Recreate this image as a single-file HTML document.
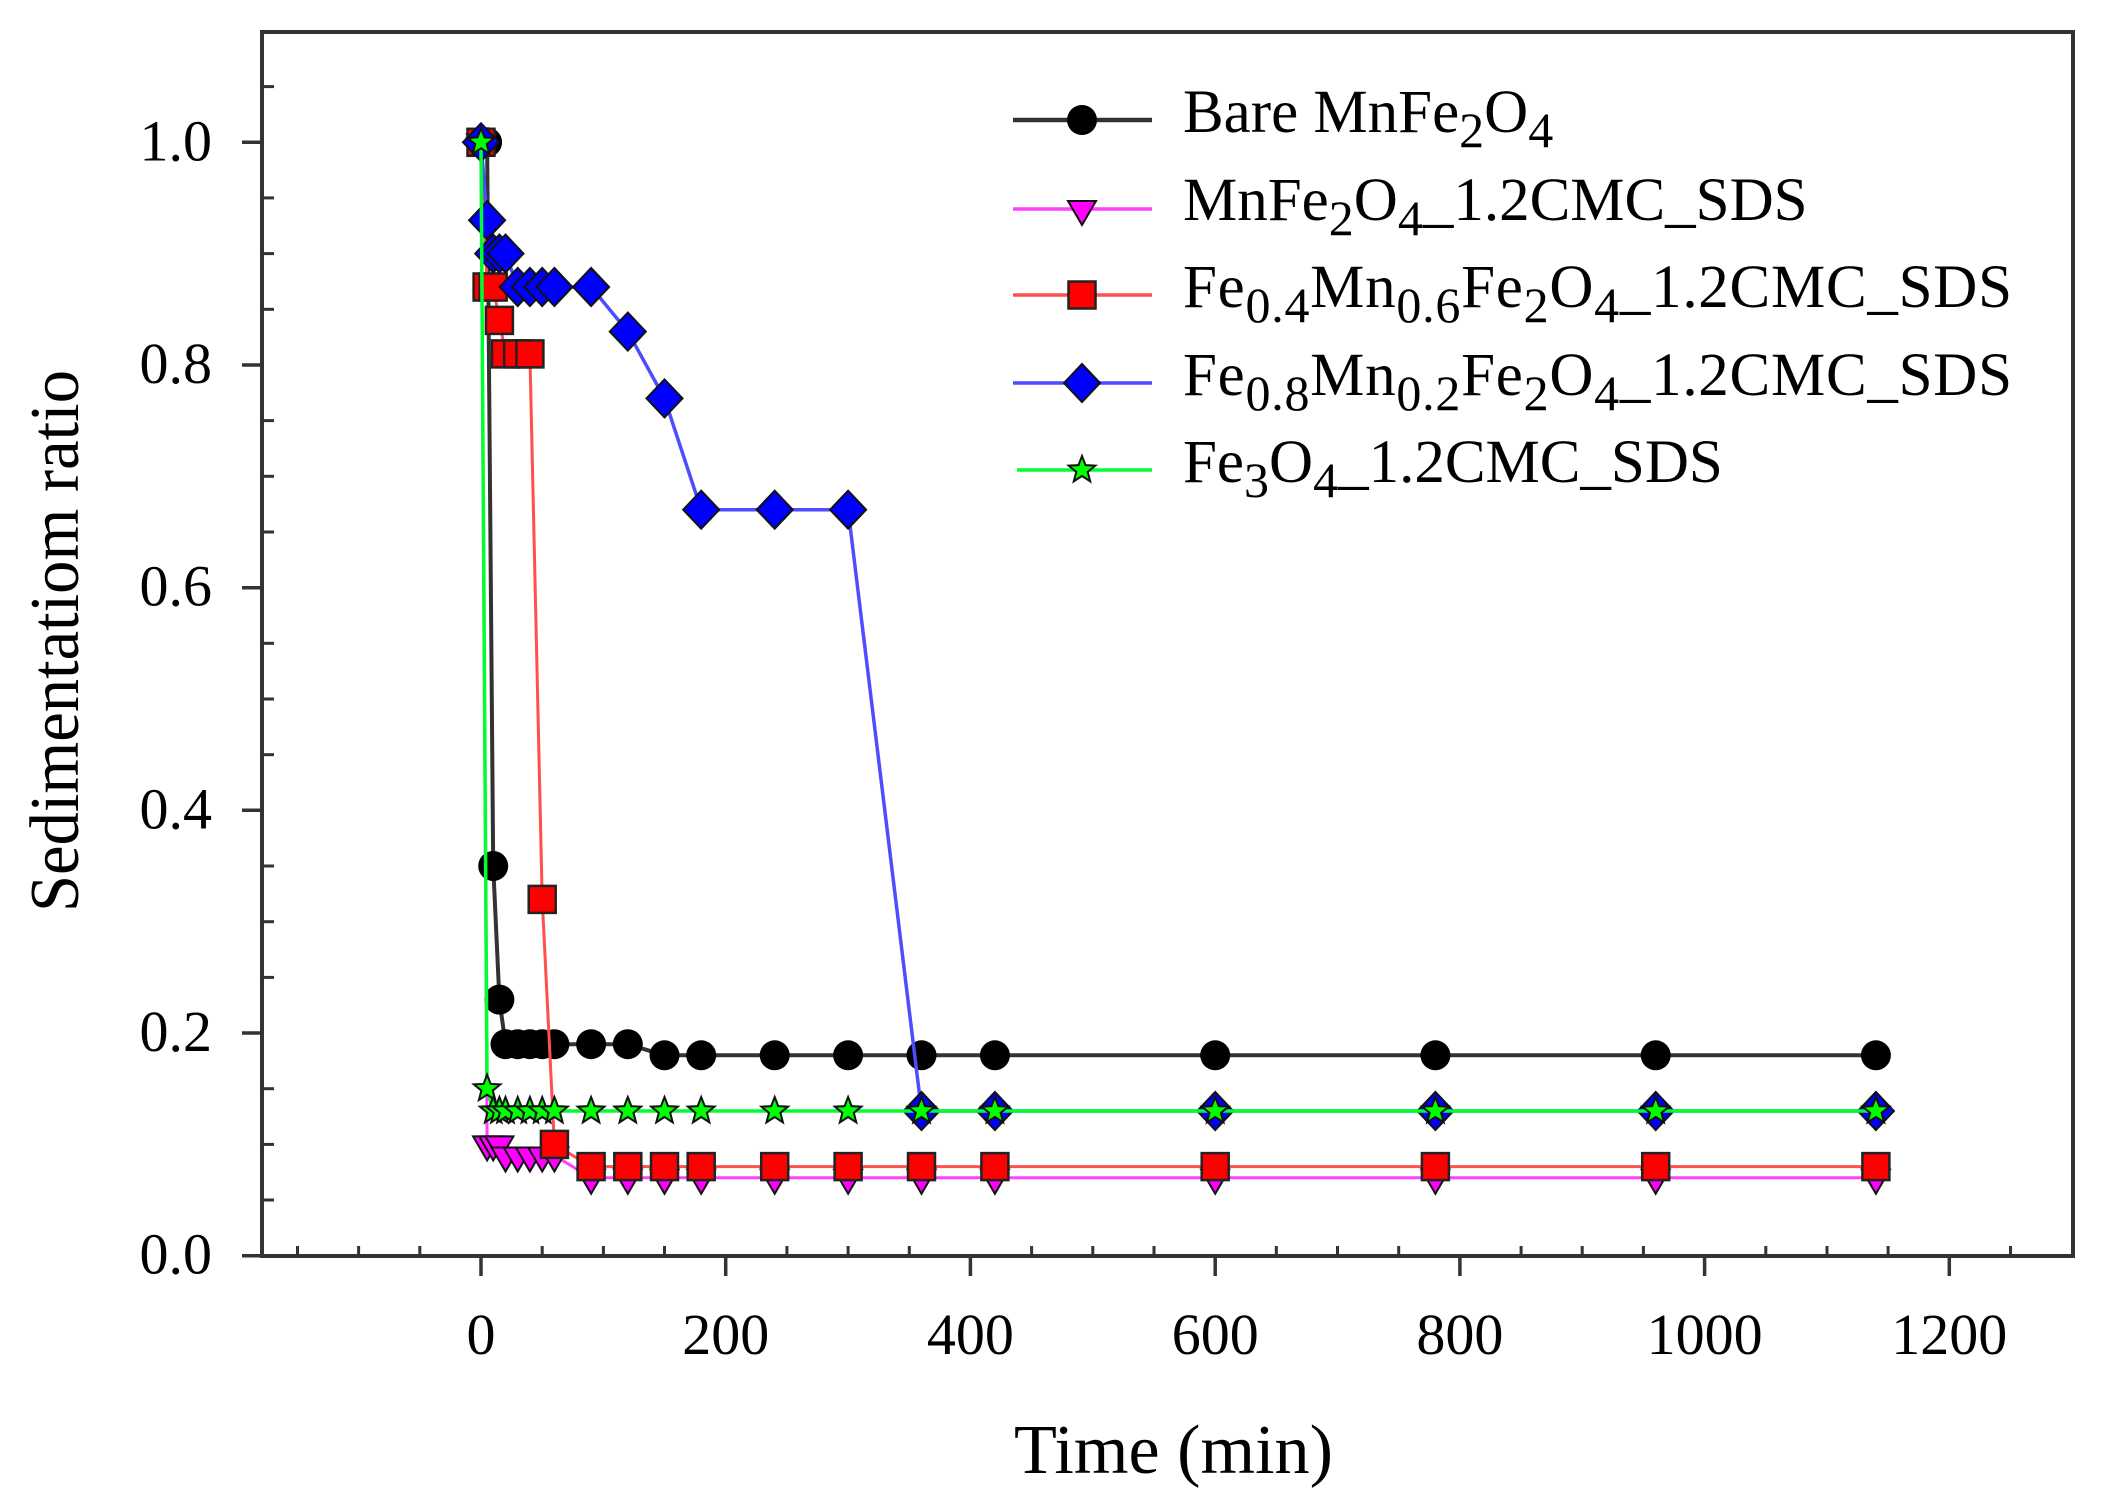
<!DOCTYPE html>
<html><head><meta charset="utf-8"><style>
html,body{margin:0;padding:0;background:#fff;}
svg{display:block;}
text{font-family:"Liberation Serif",serif;fill:#000;}
</style></head><body>
<svg width="2104" height="1507" viewBox="0 0 2104 1507" xmlns="http://www.w3.org/2000/svg">
<defs>
<circle id="mc" r="15" fill="#000"/>
<path id="mt" d="M-14,-8 L14,-8 L0,16Z" fill="#ff00ff" stroke="#111" stroke-width="2"/>
<rect id="ms" x="-13.5" y="-13.5" width="27" height="27" fill="#ff0000" stroke="#222" stroke-width="2.5"/>
<path id="md" d="M0,-19 L18,0 L0,19 L-18,0Z" fill="#0000ff" stroke="#111" stroke-width="2"/>
<path id="mg" d="M0,-14 L3.53,-4.85 L13.31,-4.33 L5.71,1.85 L8.23,11.33 L0,6 L-8.23,11.33 L-5.71,1.85 L-13.31,-4.33 L-3.53,-4.85Z" fill="#00ff00" stroke="#111" stroke-width="2"/>
</defs>
<rect width="2104" height="1507" fill="#fff"/>

<!-- frame -->
<rect x="262" y="32" width="1811" height="1224" fill="none" stroke="#333" stroke-width="4"/>
<g stroke="#333" stroke-width="3.5">
<line x1="242" y1="1255.7" x2="262" y2="1255.7"/>
<line x1="242" y1="1033.0" x2="262" y2="1033.0"/>
<line x1="242" y1="810.3" x2="262" y2="810.3"/>
<line x1="242" y1="587.7" x2="262" y2="587.7"/>
<line x1="242" y1="365.0" x2="262" y2="365.0"/>
<line x1="242" y1="142.3" x2="262" y2="142.3"/>
</g>
<g stroke="#333" stroke-width="3">
<line x1="262" y1="1200.0" x2="274" y2="1200.0"/>
<line x1="262" y1="1144.4" x2="274" y2="1144.4"/>
<line x1="262" y1="1088.7" x2="274" y2="1088.7"/>
<line x1="262" y1="977.4" x2="274" y2="977.4"/>
<line x1="262" y1="921.7" x2="274" y2="921.7"/>
<line x1="262" y1="866.0" x2="274" y2="866.0"/>
<line x1="262" y1="754.7" x2="274" y2="754.7"/>
<line x1="262" y1="699.0" x2="274" y2="699.0"/>
<line x1="262" y1="643.3" x2="274" y2="643.3"/>
<line x1="262" y1="532.0" x2="274" y2="532.0"/>
<line x1="262" y1="476.3" x2="274" y2="476.3"/>
<line x1="262" y1="420.6" x2="274" y2="420.6"/>
<line x1="262" y1="309.3" x2="274" y2="309.3"/>
<line x1="262" y1="253.6" x2="274" y2="253.6"/>
<line x1="262" y1="197.9" x2="274" y2="197.9"/>
<line x1="262" y1="86.6" x2="274" y2="86.6"/>
</g>
<g stroke="#333" stroke-width="3.5">
<line x1="481.0" y1="1256" x2="481.0" y2="1276"/>
<line x1="725.7" y1="1256" x2="725.7" y2="1276"/>
<line x1="970.4" y1="1256" x2="970.4" y2="1276"/>
<line x1="1215.2" y1="1256" x2="1215.2" y2="1276"/>
<line x1="1459.9" y1="1256" x2="1459.9" y2="1276"/>
<line x1="1704.6" y1="1256" x2="1704.6" y2="1276"/>
<line x1="1949.3" y1="1256" x2="1949.3" y2="1276"/>
</g>
<g stroke="#333" stroke-width="3">
<line x1="297.5" y1="1256" x2="297.5" y2="1246"/>
<line x1="358.6" y1="1256" x2="358.6" y2="1246"/>
<line x1="419.8" y1="1256" x2="419.8" y2="1246"/>
<line x1="542.2" y1="1256" x2="542.2" y2="1246"/>
<line x1="603.4" y1="1256" x2="603.4" y2="1246"/>
<line x1="664.5" y1="1256" x2="664.5" y2="1246"/>
<line x1="786.9" y1="1256" x2="786.9" y2="1246"/>
<line x1="848.1" y1="1256" x2="848.1" y2="1246"/>
<line x1="909.3" y1="1256" x2="909.3" y2="1246"/>
<line x1="1031.6" y1="1256" x2="1031.6" y2="1246"/>
<line x1="1092.8" y1="1256" x2="1092.8" y2="1246"/>
<line x1="1154.0" y1="1256" x2="1154.0" y2="1246"/>
<line x1="1276.3" y1="1256" x2="1276.3" y2="1246"/>
<line x1="1337.5" y1="1256" x2="1337.5" y2="1246"/>
<line x1="1398.7" y1="1256" x2="1398.7" y2="1246"/>
<line x1="1521.1" y1="1256" x2="1521.1" y2="1246"/>
<line x1="1582.2" y1="1256" x2="1582.2" y2="1246"/>
<line x1="1643.4" y1="1256" x2="1643.4" y2="1246"/>
<line x1="1765.8" y1="1256" x2="1765.8" y2="1246"/>
<line x1="1827.0" y1="1256" x2="1827.0" y2="1246"/>
<line x1="1888.1" y1="1256" x2="1888.1" y2="1246"/>
<line x1="2010.5" y1="1256" x2="2010.5" y2="1246"/>
</g>

<!-- tick labels -->
<g font-size="58" text-anchor="end">
<text x="212" y="1273.7">0.0</text>
<text x="212" y="1051.0">0.2</text>
<text x="212" y="828.3">0.4</text>
<text x="212" y="605.7">0.6</text>
<text x="212" y="383.0">0.8</text>
<text x="212" y="160.3">1.0</text>
</g>
<g font-size="58" text-anchor="middle">
<text x="481.0" y="1354">0</text>
<text x="725.7" y="1354">200</text>
<text x="970.4" y="1354">400</text>
<text x="1215.2" y="1354">600</text>
<text x="1459.9" y="1354">800</text>
<text x="1704.6" y="1354">1000</text>
<text x="1949.3" y="1354">1200</text>
</g>

<!-- axis titles -->
<text x="1173.5" y="1473" font-size="70" text-anchor="middle" textLength="319" lengthAdjust="spacingAndGlyphs">Time (min)</text>
<text transform="translate(78,641) rotate(-90)" font-size="70" text-anchor="middle" textLength="542" lengthAdjust="spacingAndGlyphs">Sedimentatiom ratio</text>

<!-- Bare MnFe2O4 -->
<polyline fill="none" stroke="#333" stroke-width="4" stroke-linejoin="round" points="481.0,142.3 487.1,142.3 493.2,866.0 499.4,999.6 505.5,1044.2 517.7,1044.2 529.9,1044.2 542.2,1044.2 554.4,1044.2 591.1,1044.2 627.8,1044.2 664.5,1055.3 701.2,1055.3 774.7,1055.3 848.1,1055.3 921.5,1055.3 994.9,1055.3 1215.2,1055.3 1435.4,1055.3 1655.7,1055.3 1875.9,1055.3"/>
<g>
<use href="#mc" x="481.0" y="142.3"/><use href="#mc" x="487.1" y="142.3"/><use href="#mc" x="493.2" y="866.0"/><use href="#mc" x="499.4" y="999.6"/><use href="#mc" x="505.5" y="1044.2"/><use href="#mc" x="517.7" y="1044.2"/><use href="#mc" x="529.9" y="1044.2"/><use href="#mc" x="542.2" y="1044.2"/><use href="#mc" x="554.4" y="1044.2"/><use href="#mc" x="591.1" y="1044.2"/><use href="#mc" x="627.8" y="1044.2"/><use href="#mc" x="664.5" y="1055.3"/><use href="#mc" x="701.2" y="1055.3"/><use href="#mc" x="774.7" y="1055.3"/><use href="#mc" x="848.1" y="1055.3"/><use href="#mc" x="921.5" y="1055.3"/><use href="#mc" x="994.9" y="1055.3"/><use href="#mc" x="1215.2" y="1055.3"/><use href="#mc" x="1435.4" y="1055.3"/><use href="#mc" x="1655.7" y="1055.3"/><use href="#mc" x="1875.9" y="1055.3"/>
</g>

<!-- MnFe2O4_1.2CMC_SDS -->
<polyline fill="none" stroke="#ff40ff" stroke-width="3" stroke-linejoin="round" points="481.0,142.3 487.1,1144.4 493.2,1144.4 499.4,1144.4 505.5,1155.5 517.7,1155.5 529.9,1155.5 542.2,1155.5 554.4,1155.5 591.1,1177.8 627.8,1177.8 664.5,1177.8 701.2,1177.8 774.7,1177.8 848.1,1177.8 921.5,1177.8 994.9,1177.8 1215.2,1177.8 1435.4,1177.8 1655.7,1177.8 1875.9,1177.8"/>
<g>
<use href="#mt" x="481.0" y="142.3"/><use href="#mt" x="487.1" y="1144.4"/><use href="#mt" x="493.2" y="1144.4"/><use href="#mt" x="499.4" y="1144.4"/><use href="#mt" x="505.5" y="1155.5"/><use href="#mt" x="517.7" y="1155.5"/><use href="#mt" x="529.9" y="1155.5"/><use href="#mt" x="542.2" y="1155.5"/><use href="#mt" x="554.4" y="1155.5"/><use href="#mt" x="591.1" y="1177.8"/><use href="#mt" x="627.8" y="1177.8"/><use href="#mt" x="664.5" y="1177.8"/><use href="#mt" x="701.2" y="1177.8"/><use href="#mt" x="774.7" y="1177.8"/><use href="#mt" x="848.1" y="1177.8"/><use href="#mt" x="921.5" y="1177.8"/><use href="#mt" x="994.9" y="1177.8"/><use href="#mt" x="1215.2" y="1177.8"/><use href="#mt" x="1435.4" y="1177.8"/><use href="#mt" x="1655.7" y="1177.8"/><use href="#mt" x="1875.9" y="1177.8"/>
</g>

<!-- Fe0.4Mn0.6Fe2O4 -->
<polyline fill="none" stroke="#ff5050" stroke-width="3" stroke-linejoin="round" points="481.0,142.3 487.1,287.0 493.2,287.0 499.4,320.4 505.5,353.9 517.7,353.9 529.9,353.9 542.2,899.4 554.4,1144.4 591.1,1166.6 627.8,1166.6 664.5,1166.6 701.2,1166.6 774.7,1166.6 848.1,1166.6 921.5,1166.6 994.9,1166.6 1215.2,1166.6 1435.4,1166.6 1655.7,1166.6 1875.9,1166.6"/>
<g>
<use href="#ms" x="481.0" y="142.3"/><use href="#ms" x="487.1" y="287.0"/><use href="#ms" x="493.2" y="287.0"/><use href="#ms" x="499.4" y="320.4"/><use href="#ms" x="505.5" y="353.9"/><use href="#ms" x="517.7" y="353.9"/><use href="#ms" x="529.9" y="353.9"/><use href="#ms" x="542.2" y="899.4"/><use href="#ms" x="554.4" y="1144.4"/><use href="#ms" x="591.1" y="1166.6"/><use href="#ms" x="627.8" y="1166.6"/><use href="#ms" x="664.5" y="1166.6"/><use href="#ms" x="701.2" y="1166.6"/><use href="#ms" x="774.7" y="1166.6"/><use href="#ms" x="848.1" y="1166.6"/><use href="#ms" x="921.5" y="1166.6"/><use href="#ms" x="994.9" y="1166.6"/><use href="#ms" x="1215.2" y="1166.6"/><use href="#ms" x="1435.4" y="1166.6"/><use href="#ms" x="1655.7" y="1166.6"/><use href="#ms" x="1875.9" y="1166.6"/>
</g>

<!-- Fe0.8Mn0.2Fe2O4 -->
<polyline fill="none" stroke="#4d4dff" stroke-width="3.5" stroke-linejoin="round" points="481.0,142.3 487.1,220.2 493.2,253.6 499.4,253.6 505.5,253.6 517.7,287.0 529.9,287.0 542.2,287.0 554.4,287.0 591.1,287.0 627.8,331.6 664.5,398.4 701.2,509.7 774.7,509.7 848.1,509.7 921.5,1111.0 994.9,1111.0 1215.2,1111.0 1435.4,1111.0 1655.7,1111.0 1875.9,1111.0"/>
<g>
<use href="#md" x="481.0" y="142.3"/><use href="#md" x="487.1" y="220.2"/><use href="#md" x="493.2" y="253.6"/><use href="#md" x="499.4" y="253.6"/><use href="#md" x="505.5" y="253.6"/><use href="#md" x="517.7" y="287.0"/><use href="#md" x="529.9" y="287.0"/><use href="#md" x="542.2" y="287.0"/><use href="#md" x="554.4" y="287.0"/><use href="#md" x="591.1" y="287.0"/><use href="#md" x="627.8" y="331.6"/><use href="#md" x="664.5" y="398.4"/><use href="#md" x="701.2" y="509.7"/><use href="#md" x="774.7" y="509.7"/><use href="#md" x="848.1" y="509.7"/><use href="#md" x="921.5" y="1111.0"/><use href="#md" x="994.9" y="1111.0"/><use href="#md" x="1215.2" y="1111.0"/><use href="#md" x="1435.4" y="1111.0"/><use href="#md" x="1655.7" y="1111.0"/><use href="#md" x="1875.9" y="1111.0"/>
</g>

<!-- Fe3O4 -->
<polyline fill="none" stroke="#00ff30" stroke-width="3.5" stroke-linejoin="round" points="481.0,142.3 487.1,1088.7 493.2,1111.0 499.4,1111.0 505.5,1111.0 517.7,1111.0 529.9,1111.0 542.2,1111.0 554.4,1111.0 591.1,1111.0 627.8,1111.0 664.5,1111.0 701.2,1111.0 774.7,1111.0 848.1,1111.0 921.5,1111.0 994.9,1111.0 1215.2,1111.0 1435.4,1111.0 1655.7,1111.0 1875.9,1111.0"/>
<g>
<use href="#mg" x="481.0" y="142.3"/><use href="#mg" x="487.1" y="1088.7"/><use href="#mg" x="493.2" y="1111.0"/><use href="#mg" x="499.4" y="1111.0"/><use href="#mg" x="505.5" y="1111.0"/><use href="#mg" x="517.7" y="1111.0"/><use href="#mg" x="529.9" y="1111.0"/><use href="#mg" x="542.2" y="1111.0"/><use href="#mg" x="554.4" y="1111.0"/><use href="#mg" x="591.1" y="1111.0"/><use href="#mg" x="627.8" y="1111.0"/><use href="#mg" x="664.5" y="1111.0"/><use href="#mg" x="701.2" y="1111.0"/><use href="#mg" x="774.7" y="1111.0"/><use href="#mg" x="848.1" y="1111.0"/><use href="#mg" x="921.5" y="1111.0"/><use href="#mg" x="994.9" y="1111.0"/><use href="#mg" x="1215.2" y="1111.0"/><use href="#mg" x="1435.4" y="1111.0"/><use href="#mg" x="1655.7" y="1111.0"/><use href="#mg" x="1875.9" y="1111.0"/>
</g>

<!-- legend -->
<line x1="1013" y1="120" x2="1152" y2="120" stroke="#333" stroke-width="4.5"/>
<use href="#mc" x="1082" y="120"/>
<line x1="1013" y1="209" x2="1152" y2="209" stroke="#ff40ff" stroke-width="3.5"/>
<use href="#mt" x="1082" y="209"/>
<line x1="1013" y1="295" x2="1152" y2="295" stroke="#ff5050" stroke-width="3.5"/>
<use href="#ms" x="1082" y="295"/>
<line x1="1013" y1="383" x2="1152" y2="383" stroke="#4d4dff" stroke-width="3.5"/>
<use href="#md" x="1082" y="383"/>
<line x1="1017" y1="470" x2="1152" y2="470" stroke="#00ff30" stroke-width="3.5"/>
<use href="#mg" x="1082" y="470"/>

<g font-size="61">
<text x="1183" y="132">Bare MnFe<tspan font-size="50" dy="15">2</tspan><tspan dy="-15">O</tspan><tspan font-size="50" dy="15">4</tspan></text>
<text x="1183" y="220">MnFe<tspan font-size="50" dy="15">2</tspan><tspan dy="-15">O</tspan><tspan font-size="50" dy="15">4</tspan><tspan dy="-15">_1.2CMC_SDS</tspan></text>
<text x="1183" y="307" textLength="829" lengthAdjust="spacing">Fe<tspan font-size="50" dy="15">0.4</tspan><tspan dy="-15">Mn</tspan><tspan font-size="50" dy="15">0.6</tspan><tspan dy="-15">Fe</tspan><tspan font-size="50" dy="15">2</tspan><tspan dy="-15">O</tspan><tspan font-size="50" dy="15">4</tspan><tspan dy="-15">_1.2CMC_SDS</tspan></text>
<text x="1183" y="395" textLength="829" lengthAdjust="spacing">Fe<tspan font-size="50" dy="15">0.8</tspan><tspan dy="-15">Mn</tspan><tspan font-size="50" dy="15">0.2</tspan><tspan dy="-15">Fe</tspan><tspan font-size="50" dy="15">2</tspan><tspan dy="-15">O</tspan><tspan font-size="50" dy="15">4</tspan><tspan dy="-15">_1.2CMC_SDS</tspan></text>
<text x="1183" y="482">Fe<tspan font-size="50" dy="15">3</tspan><tspan dy="-15">O</tspan><tspan font-size="50" dy="15">4</tspan><tspan dy="-15">_1.2CMC_SDS</tspan></text>
</g>
</svg>
</body></html>
